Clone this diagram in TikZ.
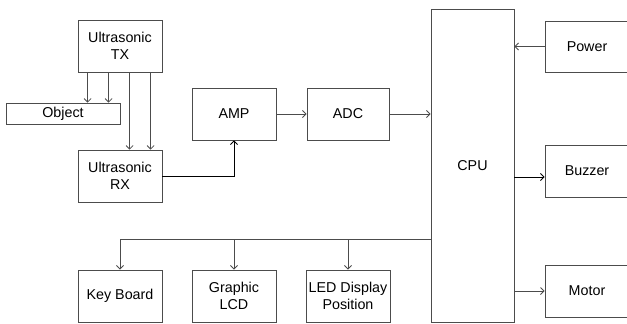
\documentclass[tikz,border=0pt]{standalone}
\usepackage{fontspec}
\setmainfont{Liberation Sans}
\usetikzlibrary{arrows.meta, calc}

\begin{document}
\begin{tikzpicture}[x=0.03cm, y=-0.03cm, line width=0.7pt, >={Straight Barb[length=3pt,width=6pt]},
  blk/.style={draw=black!70, fill=white, minimum width=2.52cm, minimum height=1.56cm, inner sep=0pt, align=center, font=\fontsize{12.2}{15}\selectfont},
  wire/.style={draw=black!70}]
\useasboundingbox (0,0) rectangle (627,323);
% sensor side
\node[blk] (tx) at (120,46) {Ultrasonic\\TX};
\node[blk, minimum width=3.42cm, minimum height=0.63cm] (obj) at (63,113.5) {Object};
\node[blk] (rx) at (120,176) {Ultrasonic\\RX};
\node[blk] (amp) at (234,114) {AMP};
\node[blk, minimum width=2.46cm] (adc) at (348,114) {ADC};
% controller
\node[blk, minimum width=2.49cm, minimum height=9.39cm] (cpu) at (472.5,165.5) {CPU};
\node[blk, minimum height=1.53cm] (pwr) at (587,46.5) {Power};
\node[blk] (bzr) at (587,171) {Buzzer};
\node[blk] (mot) at (587,291) {Motor};
% bottom row
\node[blk] (kb) at (120,296) {Key Board};
\node[blk] (lcd) at (234,296) {Graphic\\LCD};
\node[blk] (led) at (348,296) {LED Display\\Position};
% waves
\foreach \dx in {10,31} \draw[wire,->] ($(tx.south west)+(\dx,0)$) coordinate (p) -- (p |- obj.north);
\foreach \dx in {52,73} \draw[wire,->] ($(tx.south west)+(\dx,0)$) coordinate (p) -- (p |- rx.north);
% signal path
\draw[->] (rx.east) -| (amp.south);
\draw[wire,->] (amp) -- (adc);
\draw[wire,->] (adc.east) -- (adc.east -| cpu.west);
\draw[wire,->] (pwr.west) -- (pwr.west -| cpu.east);
\coordinate (q) at ($(bzr.west)+(0,6)$);
\draw[->] (q -| cpu.east) -- (q);
\draw[wire,->] (mot.west -| cpu.east) -- (mot.west);
% bus to outputs
\coordinate (bus) at ($(cpu.west)+(0,73.5)$);
\draw[wire] (bus) -- (bus -| kb.north);
\foreach \n in {kb,lcd,led} \draw[wire,->] (bus -| \n.north) -- (\n.north);
\end{tikzpicture}
\end{document}
